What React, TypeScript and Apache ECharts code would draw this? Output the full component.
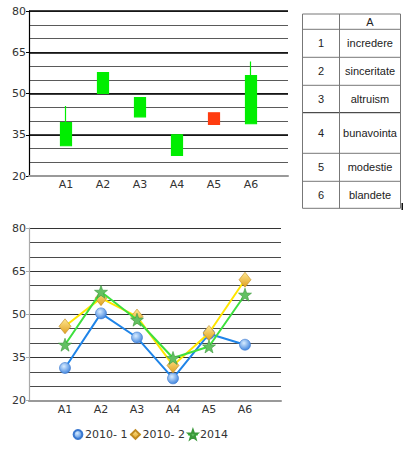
import React, { useEffect, useRef } from "react";
import * as echarts from "echarts";

const categories = ["A1", "A2", "A3", "A4", "A5", "A6"];
const candleOpen = [31, 50, 41.5, 27.5, 43, 39];
const candleClose = [39.4, 57.6, 48.5, 35, 38.8, 56.5];
const candleLow = [31, 50, 41.5, 27.5, 38.8, 39];
const candleHigh = [45.5, 57.6, 48.5, 35, 43, 61.6];

const seriesNames = ["2010- 1", "2010- 2", "2014"];
const s2010a = [31.3, 50.3, 41.9, 27.7, 43.2, 39.4];
const s2010b = [45.8, 55.6, 49.2, 32.2, 43.5, 62];
const s2014 = [39.4, 57.8, 48.1, 34.8, 38.8, 56.8];

const yMin = 20;
const yMax = 80;
const yMajor = 15;
const yMinor = 5;

const tableHeader = "A";
const tableNums = ["1", "2", "3", "4", "5", "6"];
const tableNames = ["incredere", "sinceritate", "altruism", "bunavointa", "modestie", "blandete"];

const STAR =
  "path://M10,0L12.35,6.76L19.51,6.91L13.8,11.24L15.88,18.09L10,14L4.12,18.09L6.2,11.24L0.49,6.91L7.65,6.76Z";

const FONT = "DejaVu Sans";

export default function App() {
  const ref = useRef<HTMLDivElement>(null);
  useEffect(() => {
    if (!ref.current) return;
    const chart = echarts.init(ref.current, undefined, { renderer: "svg" });
    const axisCats = ["", ...categories, ""];
    const idx = (i: number) => i + 1;

    const candleData = categories.map((_, i) => [
      idx(i),
      candleOpen[i],
      candleClose[i],
      candleLow[i],
      candleHigh[i],
    ]);
    const lineData = (arr: number[]) => arr.map((v, i) => [idx(i), v]);

    // table geometry
    const tX0 = 302.5, tX1 = 339.5, tX2 = 400.5;
    const rowYs = [14, 29.3, 57.3, 85.3, 112.7, 153.3, 181.3, 208.3];
    const tableEls: any[] = [];
    const lineColor = "#777";
    rowYs.forEach((y, k) => {
      tableEls.push({
        type: "line",
        shape: { x1: tX0, y1: y, x2: tX2, y2: y },
        style: { stroke: k === 4 ? "#222" : lineColor, lineWidth: 1 },
      });
    });
    [tX0, tX1, tX2].forEach((x) => {
      tableEls.push({
        type: "line",
        shape: { x1: x, y1: rowYs[0], x2: x, y2: rowYs[rowYs.length - 1] },
        style: { stroke: lineColor, lineWidth: 1 },
      });
    });
    const cellText = (text: string, cx: number, cy: number) => ({
      type: "text",
      x: cx,
      y: cy,
      style: {
        text,
        fill: "#222",
        font: "11px 'Liberation Sans', Arial",
        align: "center",
        verticalAlign: "middle",
      },
    });
    tableEls.push(cellText(tableHeader, (tX1 + tX2) / 2, (rowYs[0] + rowYs[1]) / 2));
    tableNums.forEach((n, i) => {
      const cy = (rowYs[i + 1] + rowYs[i + 2]) / 2;
      tableEls.push(cellText(n, (tX0 + tX1) / 2, cy));
      tableEls.push(cellText(tableNames[i], (tX1 + tX2) / 2, cy));
    });
    tableEls.push({
      type: "rect",
      shape: { x: 401.5, y: 203, width: 1.5, height: 7 },
      style: { fill: "#111" },
    });

    const minorY = (gridIndex: number, color: string) => ({
      type: "value",
      gridIndex,
      position: "left",
      min: yMin,
      max: yMax,
      interval: yMinor,
      axisLine: { show: false },
      axisTick: { show: false },
      axisLabel: { show: false },
      splitLine: { show: true, lineStyle: { color, width: 1 } },
    });
    const majorY = (gridIndex: number, axisColor: string, splitColor: string, splitWidth: number) => ({
      type: "value",
      gridIndex,
      position: "left",
      min: yMin,
      max: yMax,
      interval: yMajor,
      axisLine: { show: true, lineStyle: { color: axisColor, width: 1.2 } },
      axisTick: { show: true, length: 3, lineStyle: { color: axisColor } },
      axisLabel: { show: true, margin: 3, color: "#333", fontSize: 11, fontFamily: FONT },
      splitLine: { show: true, lineStyle: { color: splitColor, width: splitWidth } },
    });
    const xAx = (gridIndex: number) => ({
      type: "category",
      gridIndex,
      data: axisCats,
      boundaryGap: false,
      z: 5,
      axisLine: { show: true, lineStyle: { color: "#999", width: 2 } },
      axisTick: { show: false },
      axisLabel: { margin: 3, color: "#333", fontSize: 11, fontFamily: FONT, interval: 0 },
      splitLine: { show: false },
    });

    const blueFill = new echarts.graphic.RadialGradient(0.4, 0.35, 0.7, [
      { offset: 0, color: "#d8ecff" },
      { offset: 1, color: "#3a80dc" },
    ]);
    const yellowFill = new echarts.graphic.LinearGradient(0, 0, 0, 1, [
      { offset: 0, color: "#ffe890" },
      { offset: 1, color: "#e0a020" },
    ]);

    chart.setOption({
      animation: false,
      backgroundColor: "#fff",
      grid: [
        { left: 29, right: 125, top: 11, height: 165 },
        { left: 29, right: 132, top: 228, height: 172.5 },
      ],
      xAxis: [xAx(0), xAx(1)],
      yAxis: [
        minorY(0, "#5a5a5a"),
        majorY(0, "#000", "#000", 1.6),
        minorY(1, "#4a4a4a"),
        majorY(1, "#aaa", "#333", 1),
      ],
      legend: {
        left: 72,
        top: 429,
        itemWidth: 10,
        itemHeight: 11,
        itemGap: 2,
        padding: 0,
        textStyle: { color: "#333", fontSize: 11, fontFamily: FONT, padding: [0, 0, 0, -3] },
        data: seriesNames,
      },
      graphic: tableEls,
      series: [
        {
          type: "candlestick",
          xAxisIndex: 0,
          yAxisIndex: 1,
          barWidth: 12,
          encode: { x: 0, y: [1, 2, 3, 4] },
          itemStyle: {
            color: "#00ee00",
            color0: "#ff3c10",
            borderColor: "#00ee00",
            borderColor0: "#ff3c10",
            borderWidth: 1.2,
          },
          data: candleData,
        },
        {
          name: seriesNames[0],
          type: "line",
          xAxisIndex: 1,
          yAxisIndex: 3,
          symbol: "circle",
          symbolSize: 11,
          lineStyle: { color: "#1f84e8", width: 2 },
          itemStyle: { color: blueFill, borderColor: "#3a78d0", borderWidth: 0.6 },
          data: lineData(s2010a),
          z: 3,
        },
        {
          name: seriesNames[1],
          type: "line",
          xAxisIndex: 1,
          yAxisIndex: 3,
          symbol: "diamond",
          symbolSize: [12, 15],
          lineStyle: { color: "#ffe600", width: 2 },
          itemStyle: { color: yellowFill, borderColor: "#c08a20", borderWidth: 0.6 },
          data: lineData(s2010b),
          z: 4,
        },
        {
          name: seriesNames[2],
          type: "line",
          xAxisIndex: 1,
          yAxisIndex: 3,
          symbol: STAR,
          symbolSize: 13,
          lineStyle: { color: "#3ee03e", width: 2 },
          itemStyle: { color: "#62c062", borderColor: "#3a983a", borderWidth: 0.6 },
          data: lineData(s2014),
          z: 5,
        },
      ],
    });
    return () => chart.dispose();
  }, []);
  return (
    <div
      ref={ref}
      style={{ position: "fixed", left: 0, top: 0, width: 413, height: 450, background: "#fff" }}
    />
  );
}
